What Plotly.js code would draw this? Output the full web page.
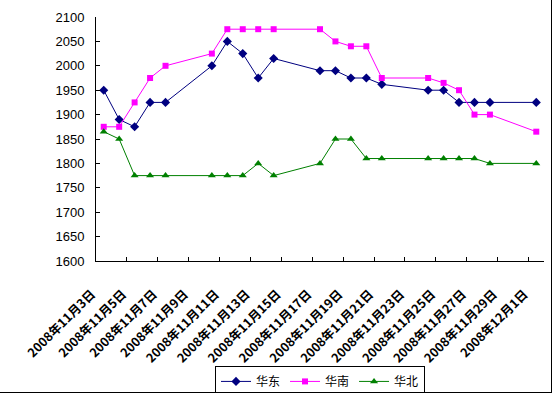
<!DOCTYPE html>
<html>
<head>
<meta charset="utf-8">
<script src="https://cdn.plot.ly/plotly-3.0.1.min.js"></script>
<style>
html,body{margin:0;padding:0;background:#fff;}
#chart{width:551px;height:392px;border-right:1px solid #000;border-bottom:1px solid #000;overflow:hidden;}
</style>
</head>
<body>
<div id="chart"></div>
<script>
var dates = ['2008-11-03','2008-11-04','2008-11-05','2008-11-06','2008-11-07','2008-11-10','2008-11-11','2008-11-12','2008-11-13','2008-11-14','2008-11-17','2008-11-18','2008-11-19','2008-11-20','2008-11-21','2008-11-24','2008-11-25','2008-11-26','2008-11-27','2008-11-28','2008-12-01'];
var huadong = [1950,1890,1875,1925,1925,2000,2050,2025,1975,2015,1990,1990,1975,1975,1962,1950,1950,1925,1925,1925,1925];
var huanan = [1875,1875,1925,1975,2000,2025,2075,2075,2075,2075,2075,2050,2040,2040,1975,1975,1965,1950,1900,1900,1865];
var huabei = [1865,1850,1775,1775,1775,1775,1775,1775,1800,1775,1800,1850,1850,1810,1810,1810,1810,1810,1810,1800,1800];
var tickDates = ['2008-11-03','2008-11-05','2008-11-07','2008-11-09','2008-11-11','2008-11-13','2008-11-15','2008-11-17','2008-11-19','2008-11-21','2008-11-23','2008-11-25','2008-11-27','2008-11-29','2008-12-01'];
var tickLabels = ['2008年11月3日','2008年11月5日','2008年11月7日','2008年11月9日','2008年11月11日','2008年11月13日','2008年11月15日','2008年11月17日','2008年11月19日','2008年11月21日','2008年11月23日','2008年11月25日','2008年11月27日','2008年11月29日','2008年12月1日'];
var seriesNames = ['华东','华南','华北'];

// boundary ticks halfway between labelled days
var day = 86400000;
var minorVals = [];
for (var i = 0; i < tickDates.length - 1; i++) {
  var t = new Date(tickDates[i] + 'T00:00:00Z').getTime() + 1.5 * day;
  minorVals.push(new Date(t).toISOString().slice(0,19).replace('T',' '));
}

var traces = [
  {x: dates, y: huadong, name: seriesNames[0], type: 'scatter', mode: 'lines+markers',
   line: {color: '#000080', width: 1}, marker: {symbol: 'diamond', size: 7, color: '#000080'}},
  {x: dates, y: huanan, name: seriesNames[1], type: 'scatter', mode: 'lines+markers',
   line: {color: '#FF00FF', width: 1}, marker: {symbol: 'square', size: 6, color: '#FF00FF'}},
  {x: dates, y: huabei, name: seriesNames[2], type: 'scatter', mode: 'lines+markers',
   line: {color: '#008000', width: 1}, marker: {symbol: 'triangle-up', size: 7, color: '#008000'}}
];

var layout = {
  width: 551, height: 392,
  margin: {l: 96, r: 7, t: 17, b: 131, autoexpand: false},
  paper_bgcolor: '#fff', plot_bgcolor: '#fff',
  showlegend: true,
  legend: {orientation: 'h', x: 0.5, xanchor: 'center', y: -0.43, yanchor: 'top',
    bordercolor: '#000', borderwidth: 1, bgcolor: '#fff',
    font: {family: 'Noto Sans CJK SC, sans-serif', size: 12, color: '#000'},
    itemwidth: 30, tracegroupgap: 0},
  xaxis: {
    type: 'date', automargin: false,
    range: ['2008-11-02 12:00', '2008-12-01 12:00'],
    tickmode: 'array', tickvals: tickDates, ticktext: tickLabels,
    tickangle: -45, ticks: '', showgrid: false, zeroline: false,
    showline: true, linecolor: '#000', linewidth: 1,
    ticklabelshift: -12, ticklabelstandoff: 20,
    tickfont: {family: 'Noto Sans CJK SC, sans-serif', size: 12.5, color: '#000', weight: 'bold'},
    minor: {tickmode: 'array', tickvals: minorVals, ticks: 'inside', ticklen: 4, tickcolor: '#000', tickwidth: 1, showgrid: false}
  },
  yaxis: {
    range: [1600, 2100], dtick: 50, tick0: 1600, automargin: false,
    ticks: 'inside', ticklen: 4, tickcolor: '#000', tickwidth: 1,
    showgrid: false, zeroline: false,
    showline: true, linecolor: '#000', linewidth: 1,
    ticklabelstandoff: 8,
    tickfont: {family: 'Liberation Sans, Arial, sans-serif', size: 13, color: '#000'}
  }
};

Plotly.newPlot('chart', traces, layout, {displayModeBar: false, staticPlot: true});
</script>
</body>
</html>
